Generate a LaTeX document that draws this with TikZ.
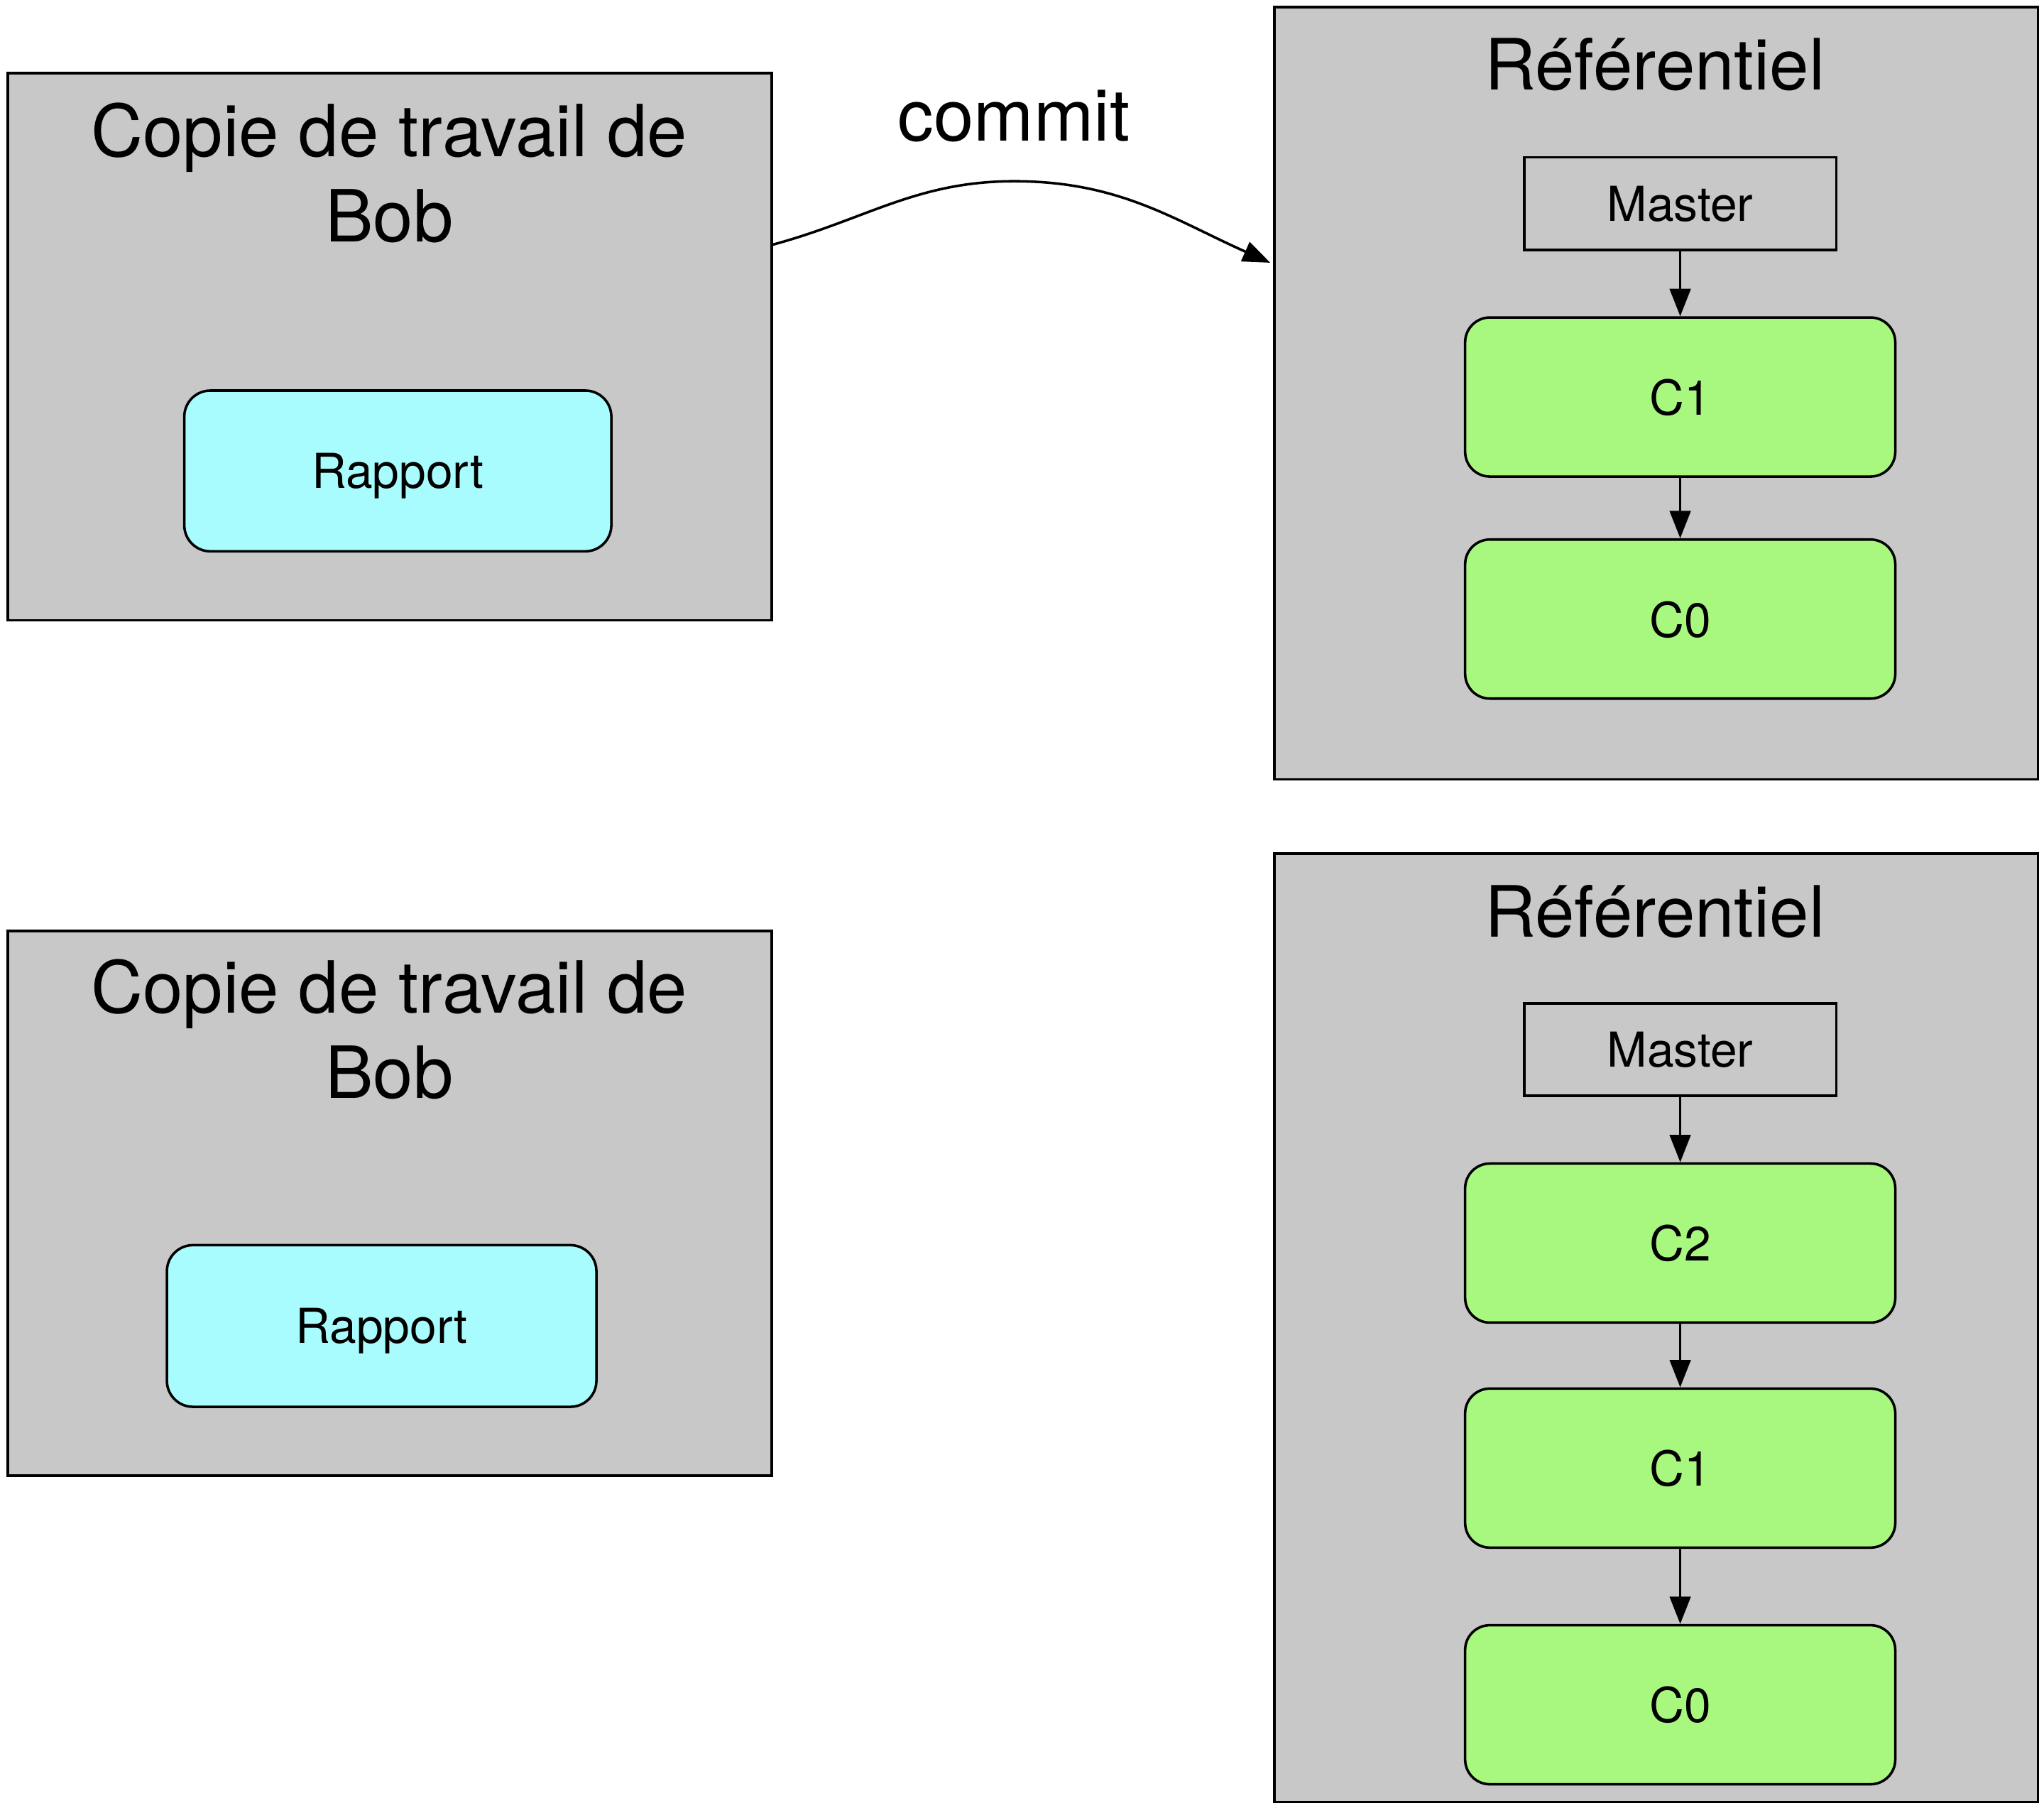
\documentclass[tikz,border=0pt]{standalone}
\usepackage{fontspec}
\setmainfont{TeX Gyre Heros}
\usetikzlibrary{arrows.meta}
\definecolor{zonegris}{RGB}{200,200,200}
\definecolor{fichcyan}{RGB}{168,252,253}
\definecolor{comvert}{RGB}{168,248,128}
\newcommand{\grand}{\fontsize{15.7}{18.6}\selectfont}
\newcommand{\moyen}{\fontsize{15.45}{18.6}\selectfont}
\newcommand{\petit}{\fontsize{10.5}{12.6}\selectfont}
\tikzset{%
    zone/.style={rectangle, draw, fill=zonegris, line width=0.55pt, anchor=north west, minimum width=5.86cm, inner sep=0pt},
    titre/.style={font=\grand, align=center, inner sep=0pt},
    fich/.style={rectangle, rounded corners=0.2cm, draw, fill=fichcyan, line width=0.55pt, font=\petit, text depth=0pt},
    com/.style={rectangle, rounded corners=0.19cm, draw, fill=comvert, line width=0.55pt, minimum width=3.3cm, minimum height=1.22cm, font=\petit, text depth=0pt},
    bra/.style={rectangle, draw, line width=0.55pt, minimum width=2.395cm, minimum height=0.71cm, font=\petit, text depth=0pt},
    pra/.style={line width=0.55pt, -{Triangle[length=2.1mm,width=1.6mm]}},
}

\begin{document}
\begin{tikzpicture}
    \useasboundingbox (0,0) rectangle (15.681,-13.862);
    % avant le commit
    \node [zone, minimum height=4.196cm] (bob1) at (0.05,-0.552) {};
    \node [titre, anchor=north] (tbob1) at (2.986,-0.78) {Copie de travail de\\Bob};
    \node [fich, minimum width=3.276cm, minimum height=1.233cm] (rap1) at (3.052,-3.612) {Rapport};
    \node [zone, minimum height=5.921cm] (ref1) at (9.766,-0.046) {};
    \node [titre, font=\moyen, anchor=base] (tref1) at (12.695,-0.69) {Référentiel};
    \node [bra] (mas1) at (12.89,-1.561) {Master};
    \node [com] (c11) at (12.89,-3.045) {C1};
    \node [com] (c01) at (12.89,-4.748) {C0};
    \draw [pra] (mas1) -- (c11);
    \draw [pra] (c11) -- (c01);
    % le commit
    \coordinate (cdep) at (5.915,-1.88);
    \coordinate (chaut) at (7.78,-1.39);
    \coordinate (carr) at (9.745,-2.015);
    \draw [pra] (cdep) to[out=15,in=180] (chaut) to[out=0,in=156] (carr);
    \node [titre, anchor=base] (tcom) at (7.778,-1.08) {commit};
    % apres le commit
    \node [zone, minimum height=4.178cm] (bob2) at (0.05,-7.13) {};
    \node [titre, anchor=north] (tbob2) at (2.986,-7.35) {Copie de travail de\\Bob};
    \node [fich, minimum width=3.295cm, minimum height=1.24cm] (rap2) at (2.928,-10.17) {Rapport};
    \node [zone, minimum height=7.273cm] (ref2) at (9.766,-6.537) {};
    \node [titre, font=\moyen, anchor=base] (tref2) at (12.695,-7.185) {Référentiel};
    \node [bra] (mas2) at (12.89,-8.05) {Master};
    \node [com] (c22) at (12.89,-9.534) {C2};
    \node [com] (c12) at (12.89,-11.26) {C1};
    \node [com] (c02) at (12.89,-13.075) {C0};
    \draw [pra] (mas2) -- (c22);
    \draw [pra] (c22) -- (c12);
    \draw [pra] (c12) -- (c02);
\end{tikzpicture}
\end{document}
